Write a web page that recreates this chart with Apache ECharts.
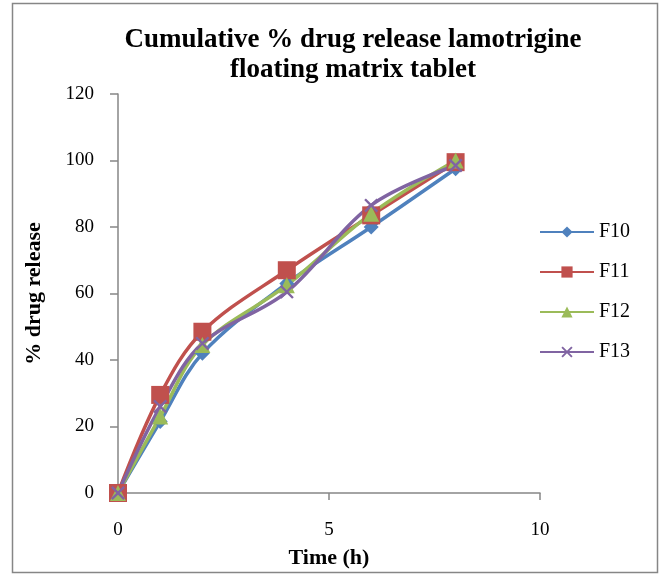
<!DOCTYPE html>
<html>
<head>
<meta charset="utf-8">
<script src="https://cdn.jsdelivr.net/npm/echarts@6/dist/echarts.min.js"></script>
<style>
	html, body { margin: 0; padding: 0; background: #fff; }
	#chart { width: 666px; height: 576px; }
</style>
</head>
<body>
<div id="chart"></div>
<script>
// 时间点 (h)
const timeH = [0, 1, 2, 4, 6, 8];
// 各配方累计释放量 (%)
const f10 = [0, 21.5, 42, 63, 80, 97.5];
const f11 = [0, 29.5, 48.5, 67, 83.5, 99.5];
const f12 = [0, 23, 44.5, 62.5, 84, 100];
const f13 = [0, 26, 45, 60.5, 86.5, 98.5];
const seriesNames = ['F10', 'F11', 'F12', 'F13'];
const xTicks = [0, 5, 10];
const yTicks = [0, 20, 40, 60, 80, 100, 120];

const serif = '"Liberation Serif", "DejaVu Serif", serif';
const axisGray = '#868686';
const xMark = 'path://M0,1.2 L1.2,0 L5,3.8 L8.8,0 L10,1.2 L6.2,5 L10,8.8 L8.8,10 L5,6.2 L1.2,10 L0,8.8 L3.8,5 Z';

const pair = (ys) => timeH.map((t, i) => [t, ys[i]]);

const makeSeries = (name, ys, color, symbol, size) => ({
	name: name,
	type: 'line',
	smooth: 0.35,
	data: pair(ys),
	symbol: symbol,
	symbolSize: size,
	lineStyle: { color: color, width: 3.5 },
	itemStyle: { color: color },
	z: 2
});

var chart = echarts.init(document.getElementById('chart'), null, { renderer: 'canvas' });
var option = {
	animation: false,
	backgroundColor: '#fff',
	color: ['#4F81BD', '#C0504D', '#9BBB59', '#8064A2'],
	title: {
		text: 'Cumulative % drug release lamotrigine\nfloating matrix tablet',
		left: 348,
		top: 20,
		textAlign: 'center',
		textStyle: { fontFamily: serif, fontWeight: 'bold', fontSize: 27, lineHeight: 30, color: '#000' }
	},
	legend: {
		orient: 'vertical',
		left: 534,
		top: 217,
		itemGap: 20,
		itemWidth: 54,
		itemHeight: 14,
		data: seriesNames,
		textStyle: { fontFamily: serif, fontSize: 20, color: '#000' }
	},
	grid: { left: 118, right: 126, top: 94, bottom: 83 },
	xAxis: {
		type: 'value',
		min: 0, max: 10, interval: 5,
		name: 'Time (h)',
		nameLocation: 'middle',
		nameGap: 54,
		nameTextStyle: { fontFamily: serif, fontWeight: 'bold', fontSize: 22, color: '#000' },
		axisLine: { show: true, lineStyle: { color: axisGray, width: 1.5 } },
		axisTick: { show: true, inside: false, length: 7, lineStyle: { color: axisGray, width: 1.5 } },
		axisLabel: {
			margin: 28, fontFamily: serif, fontSize: 19, color: '#000',
			formatter: (v) => xTicks.includes(v) ? String(v) : ''
		},
		splitLine: { show: false }
	},
	yAxis: {
		type: 'value',
		min: 0, max: 120, interval: 20,
		name: '% drug release',
		nameLocation: 'middle',
		nameGap: 73,
		nameTextStyle: { fontFamily: serif, fontWeight: 'bold', fontSize: 22, color: '#000' },
		axisLine: { show: true, lineStyle: { color: axisGray, width: 1.5 } },
		axisTick: { show: true, inside: false, length: 8, lineStyle: { color: axisGray, width: 1.5 } },
		axisLabel: {
			margin: 24, fontFamily: serif, fontSize: 19, color: '#000',
			formatter: (v) => yTicks.includes(v) ? String(v) : ''
		},
		splitLine: { show: false }
	},
	graphic: [
		{
			type: 'rect',
			shape: { x: 12.5, y: 3.5, width: 645, height: 569 },
			style: { fill: 'none', stroke: axisGray, lineWidth: 1.5 },
			silent: true
		}
	],
	series: [
		makeSeries('F10', f10, '#4F81BD', 'diamond', 15),
		makeSeries('F11', f11, '#C0504D', 'rect', 18),
		makeSeries('F12', f12, '#9BBB59', 'triangle', 16),
		makeSeries('F13', f13, '#8064A2', xMark, 14)
	]
};
chart.setOption(option);
</script>
</body>
</html>
